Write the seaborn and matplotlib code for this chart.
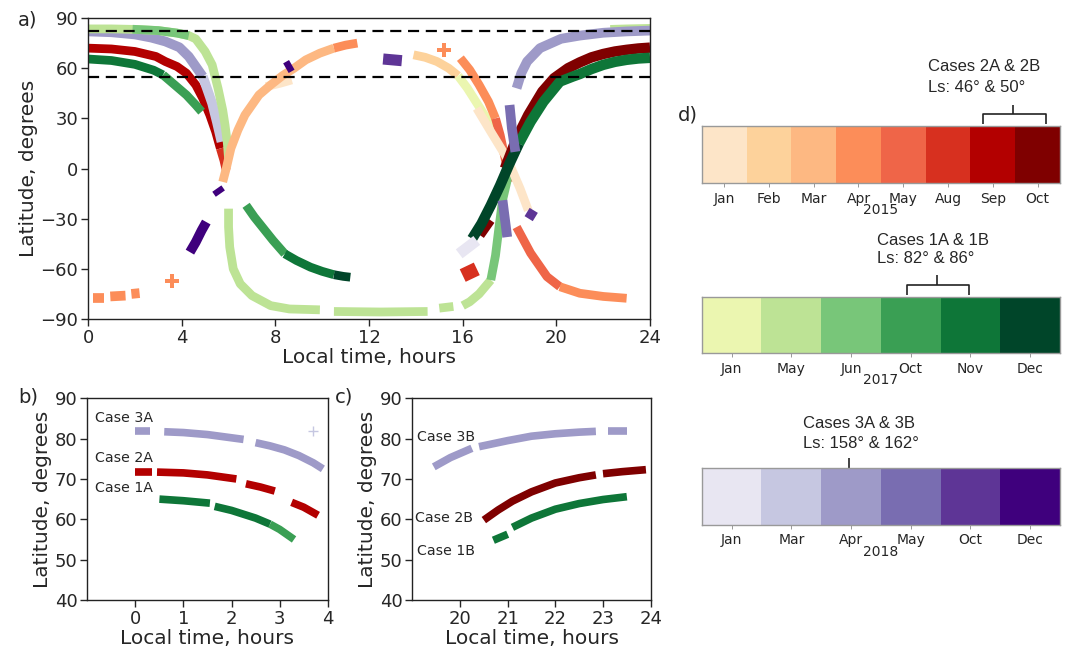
import numpy as np
import matplotlib
matplotlib.use("Agg")
import matplotlib.pyplot as plt
from matplotlib.colors import ListedColormap
import seaborn as sns

# ---------------- colours per month ----------------
months_2015 = ["Jan", "Feb", "Mar", "Apr", "May", "Aug", "Sep", "Oct"]
colors_2015 = ["#fde5c8", "#fdd29b", "#fdb882", "#fc8d59", "#ef6548", "#d7301f", "#b30000", "#7f0000"]
months_2017 = ["Jan", "May", "Jun", "Oct", "Nov", "Dec"]
colors_2017 = ["#ebf6b0", "#bde395", "#78c679", "#3a9f54", "#0e7638", "#004529"]
months_2018 = ["Jan", "Mar", "Apr", "May", "Oct", "Dec"]
colors_2018 = ["#e8e6f2", "#c6c7e1", "#9e9ac8", "#796db1", "#5e3596", "#3f007d"]

O_JAN, O_FEB, O_MAR, O_APR, O_MAY, O_AUG, O_SEP, O_OCT = colors_2015
G_JAN, G_MAY, G_JUN, G_OCT, G_NOV, G_DEC = colors_2017
P_JAN, P_MAR, P_APR, P_MAY, P_OCT, P_DEC = colors_2018

# ---------------- panel a data (local time h, latitude deg) ----------------
# morning, northern branch
a_gmay_n_t = [0, 1, 2, 3, 3.8, 4.3, 4.6, 5.0, 5.3, 5.55, 5.75, 5.85, 5.95, 6.0]
a_gmay_n_lat = [83.5, 83.5, 83.2, 82.5, 81, 79.5, 77.5, 70, 62, 48, 35, 26, 15, 6]
a_gjun_n_t = [1.9, 3.0, 3.8, 4.3]
a_gjun_n_lat = [83.3, 82.5, 81, 79.5]
a_oct2a_t = [0, 1, 2, 2.9, 3.3, 3.8, 4.2, 4.6, 4.9, 5.2, 5.45, 5.65]
a_oct2a_lat = [72, 71.5, 70, 67, 64, 61, 57, 50, 42, 32, 22, 12]
a_aug_m_t = [5.65, 5.8, 5.9]
a_aug_m_lat = [12, 5, -1]
a_nov1a_t = [0, 1, 2, 2.8, 3.2]
a_nov1a_lat = [65.5, 64.6, 62.3, 58.8, 56]
a_oct1a_t = [3.2, 3.7, 4.2, 4.6, 4.85]
a_oct1a_lat = [56, 50, 44, 38, 34]
a_papr3a_t = [0, 1, 2, 2.7, 3.3, 3.9, 4.3, 4.6, 4.9]
a_papr3a_lat = [82, 81.5, 80.2, 78.3, 76, 72.5, 67, 61, 55]
a_pmar3a_t = [4.9, 5.1, 5.3, 5.5, 5.7]
a_pmar3a_lat = [55, 47, 39, 28, 16]
# morning rising orange branch
a_omar_t = [5.75, 5.9, 6.1, 6.4, 6.7, 7.3, 7.8, 8.3, 8.8, 9.3, 9.9, 10.5]
a_omar_lat = [-8, 0, 12, 23, 32, 44, 50, 55.5, 60, 65, 69, 72]
a_oapr_m_t = [10.5, 11.0, 11.5]
a_oapr_m_lat = [72, 73.8, 75]
a_ojan_m_t = [7.6, 8.2, 8.7]
a_ojan_m_lat = [49, 51, 53]
# morning southern branches
a_gmay_s1_t = [6.0, 6.0, 6.05, 6.2, 6.5, 7.0, 7.8, 8.6, 9.9]
a_gmay_s1_lat = [-24, -35, -47, -60, -69, -76, -82, -84, -84.5]
a_gmay_s2_t = [10.5, 12.5, 14.5]
a_gmay_s2_lat = [-85.5, -85.8, -85.5]
a_gmay_s3_t = [15.0, 15.6]
a_gmay_s3_lat = [-83.5, -82.5]
a_goct_s_t = [6.75, 7.1, 7.5, 7.9, 8.4]
a_goct_s_lat = [-22, -29, -36, -43, -51]
a_gnov_s_t = [8.4, 8.9, 9.5, 10.0, 10.5]
a_gnov_s_lat = [-51, -55, -59, -61.5, -63.5]
a_gdec_s_t = [10.5, 10.9, 11.2]
a_gdec_s_lat = [-63.5, -64.5, -65]
a_oapr_s1_t = [0.2, 0.7]
a_oapr_s1_lat = [-77.5, -77.5]
a_oapr_s2_t = [0.95, 1.6]
a_oapr_s2_lat = [-76.5, -76]
a_oapr_s3_t = [1.85, 2.2]
a_oapr_s3_lat = [-75, -74.5]
a_pdec1_t = [4.35, 4.6, 4.85, 5.05]
a_pdec1_lat = [-50, -44, -37, -32]
a_pdec2_t = [5.5, 5.65]
a_pdec2_lat = [-12, -15]
a_pdec3_t = [8.45, 8.7]
a_pdec3_lat = [60, 62]
a_poct1_t = [12.6, 13.4]
a_poct1_lat = [65.5, 64.5]
# evening branches
a_ofeb_e_t = [13.9, 14.4, 14.9, 15.4, 15.8]
a_ofeb_e_lat = [68, 66.5, 64, 60, 55.5]
a_gjan_e_t = [15.8, 16.2, 16.7, 17.2, 17.6, 17.8]
a_gjan_e_lat = [55.5, 48, 37, 26, 15, 8]
a_ojan_e_t = [16.6, 17.2, 17.9, 18.45, 18.8]
a_ojan_e_lat = [36, 22, 6, -12, -25]
a_oapr_e1_t = [15.9, 16.3, 16.7, 17.1, 17.4]
a_oapr_e1_lat = [66, 59, 50, 40, 30]
a_omay_e1_t = [17.4, 17.6, 17.75, 17.9, 18.0]
a_omay_e1_lat = [30, 20, 10, 0, -8]
a_omay_e2_t = [18.3, 18.9, 19.6, 20.15]
a_omay_e2_lat = [-35, -50.6, -64.7, -70.7]
a_oapr_e2_t = [20.15, 21.0, 22.0, 23.0]
a_oapr_e2_lat = [-70.7, -74.6, -76.5, -77.6]
a_gmay_e_t = [16.0, 16.3, 16.7, 17.2]
a_gmay_e_lat = [-82, -79.7, -75, -66.7]
a_gjun_e_t = [17.2, 17.4, 17.55, 17.7, 17.9, 18.05]
a_gjun_e_lat = [-66.7, -52, -35, -19, -7, 3]
a_gmay_top_t = [22.3, 23.0, 24.0]
a_gmay_top_lat = [83.2, 83.5, 83.8]
a_ooct_e1_t = [16.75, 17.2]
a_ooct_e1_lat = [-40, -31]
a_ooct_e2_t = [17.8, 18.3, 18.8, 19.4, 19.9, 20.5, 21.0, 21.5, 22.0, 22.5, 23.0, 23.5, 24.0]
a_ooct_e2_lat = [0, 18, 32, 46, 54, 60, 63.5, 66.5, 68.5, 70, 71, 71.8, 72.3]
a_gdec_e_t = [16.4, 16.8, 17.2, 17.6, 18.0, 18.4]
a_gdec_e_lat = [-42, -33, -22, -10, 3, 15]
a_gnov_e_t = [18.4, 18.9, 19.45, 20.15, 20.7, 21.0, 21.5, 22.0, 22.5, 23.0, 23.5, 24.0]
a_gnov_e_lat = [15, 28, 40, 52, 55, 56.5, 59.5, 62, 63.8, 65, 65.8, 66.2]
a_papr_e_t = [18.3, 18.5, 18.75, 19.3, 20.2, 21.0, 22.0, 23.0, 24.0]
a_papr_e_lat = [48, 57, 64, 72, 77.6, 79.5, 81.2, 82, 82.5]
a_pmay_e1_t = [18.0, 18.1, 18.25]
a_pmay_e1_lat = [38, 24, 10]
a_pmay_e2_t = [17.7, 17.8, 17.9]
a_pmay_e2_lat = [-19, -30, -41]
a_pjan_e_t = [15.85, 16.6]
a_pjan_e_lat = [-51, -43]
a_oaug_e_t = [16.0, 16.6]
a_oaug_e_lat = [-64, -60]
a_poct2_t = [18.75, 19.1]
a_poct2_lat = [-26, -29]
a_single_t = [3.6, 15.2]
a_single_lat = [-67, 71]
dash_lats = [82.5, 55]

# ---------------- panel b data ----------------
b_3a_1_t = [0.0, 0.3]; b_3a_1_lat = [81.8, 81.8]
b_3a_2_t = [0.6, 1.0, 1.5, 2.0, 2.25]; b_3a_2_lat = [81.7, 81.5, 81.0, 80.2, 79.8]
b_3a_3_t = [2.5, 2.8, 3.1, 3.4, 3.7, 3.9]; b_3a_3_lat = [79.0, 78.2, 77.2, 75.8, 74.0, 72.5]
b_2a_1_t = [0.0, 0.35]; b_2a_1_lat = [71.8, 71.8]
b_2a_2_t = [0.45, 1.0, 1.5, 2.1]; b_2a_2_lat = [71.7, 71.5, 71.0, 70.0]
b_2a_3_t = [2.3, 2.6, 2.9]; b_2a_3_lat = [68.8, 68.0, 67.0]
b_2a_4_t = [3.25, 3.5, 3.8]; b_2a_4_lat = [64.2, 63.0, 61.0]
b_1a_1_t = [0.5, 1.0, 1.55]; b_1a_1_lat = [65.0, 64.6, 64.0]
b_1a_2_t = [1.65, 2.0, 2.5, 2.8]; b_1a_2_lat = [63.2, 62.2, 60.3, 58.8]
b_1a_3_t = [2.8, 3.0, 3.3]; b_1a_3_lat = [58.8, 57.5, 55.0]
b_faint_t = [3.7]; b_faint_lat = [82.0]

# ---------------- panel c data ----------------
c_3b_1_t = [19.45, 19.8, 20.25]; c_3b_1_lat = [73.0, 75.3, 77.6]
c_3b_2_t = [20.4, 20.6, 21.0, 21.5, 22.0, 22.5, 22.85]; c_3b_2_lat = [78.0, 78.5, 79.5, 80.6, 81.2, 81.6, 81.8]
c_3b_3_t = [23.1, 23.5]; c_3b_3_lat = [82.0, 82.0]
c_2b_1_t = [20.5, 20.8, 21.1, 21.5, 22.0, 22.5, 22.85]; c_2b_1_lat = [59.8, 62.3, 64.5, 66.8, 69.0, 70.3, 71.0]
c_2b_2_t = [23.0, 23.4, 23.9]; c_2b_2_lat = [71.3, 71.8, 72.3]
c_1b_1_t = [20.7, 21.0]; c_1b_1_lat = [54.8, 56.3]
c_1b_2_t = [21.1, 21.5, 22.0, 22.5, 23.0, 23.5]; c_1b_2_lat = [58.0, 60.3, 62.5, 63.9, 64.9, 65.6]

# ---------------- figure ----------------
sns.set_style("ticks")
plt.rcParams["font.family"] = ["DejaVu Sans"]
plt.rcParams["axes.edgecolor"] = "#222222"

fig = plt.figure(figsize=(10.66, 6.56), dpi=100)
ax_a = fig.add_axes([0.0826, 0.5137, 0.5272, 0.4588])
ax_b = fig.add_axes([0.0819, 0.0854, 0.2255, 0.3075])
ax_c = fig.add_axes([0.3868, 0.0854, 0.2236, 0.3075])
cb_axes = [fig.add_axes([0.6583, 0.7206, 0.3361, 0.0878]),
           fig.add_axes([0.6583, 0.4614, 0.3361, 0.0863]),
           fig.add_axes([0.6583, 0.1997, 0.3361, 0.0873])]


def seg(ax, t, lat, color, lw=6.3):
    sns.lineplot(x=t, y=lat, ax=ax, color=color, lw=lw, sort=False,
                 estimator=None, solid_capstyle="butt", legend=False)


A = ax_a
# southern / background first
seg(A, a_gmay_s1_t, a_gmay_s1_lat, G_MAY)
seg(A, a_gmay_s2_t, a_gmay_s2_lat, G_MAY)
seg(A, a_gmay_s3_t, a_gmay_s3_lat, G_MAY)
seg(A, a_goct_s_t, a_goct_s_lat, G_OCT)
seg(A, a_gnov_s_t, a_gnov_s_lat, G_NOV)
seg(A, a_gdec_s_t, a_gdec_s_lat, G_DEC)
for t, l in [(a_oapr_s1_t, a_oapr_s1_lat), (a_oapr_s2_t, a_oapr_s2_lat), (a_oapr_s3_t, a_oapr_s3_lat)]:
    seg(A, t, l, O_APR, lw=7)
# morning north
seg(A, a_oct2a_t, a_oct2a_lat, O_SEP)
seg(A, a_aug_m_t, a_aug_m_lat, O_AUG)
seg(A, a_nov1a_t, a_nov1a_lat, G_NOV)
seg(A, a_oct1a_t, a_oct1a_lat, G_OCT)
seg(A, a_papr3a_t, a_papr3a_lat, P_APR, lw=7)
seg(A, a_pmar3a_t, a_pmar3a_lat, P_MAR, lw=7)
seg(A, a_gmay_n_t, a_gmay_n_lat, G_MAY)
seg(A, a_gjun_n_t, a_gjun_n_lat, G_JUN)
seg(A, a_ojan_m_t, a_ojan_m_lat, O_JAN)
seg(A, a_omar_t, a_omar_lat, O_MAR)
seg(A, a_oapr_m_t, a_oapr_m_lat, O_APR)
# evening
seg(A, a_ofeb_e_t, a_ofeb_e_lat, O_FEB)
seg(A, a_gjan_e_t, a_gjan_e_lat, G_JAN)
seg(A, a_oapr_e1_t, a_oapr_e1_lat, O_APR)
seg(A, a_omay_e1_t, a_omay_e1_lat, O_MAY)
seg(A, a_omay_e2_t, a_omay_e2_lat, O_MAY)
seg(A, a_oapr_e2_t, a_oapr_e2_lat, O_APR)
seg(A, a_gmay_e_t, a_gmay_e_lat, G_MAY)
seg(A, a_gjun_e_t, a_gjun_e_lat, G_JUN)
seg(A, a_ojan_e_t, a_ojan_e_lat, O_JAN)
seg(A, a_gmay_top_t, a_gmay_top_lat, G_MAY)
seg(A, a_ooct_e1_t, a_ooct_e1_lat, O_OCT)
seg(A, a_ooct_e2_t, a_ooct_e2_lat, O_OCT, lw=7.5)
seg(A, a_gdec_e_t, a_gdec_e_lat, G_DEC, lw=7.5)
seg(A, a_gnov_e_t, a_gnov_e_lat, G_NOV, lw=7.5)
seg(A, a_papr_e_t, a_papr_e_lat, P_APR, lw=7)
seg(A, a_pmay_e1_t, a_pmay_e1_lat, P_MAY, lw=7)
seg(A, a_pmay_e2_t, a_pmay_e2_lat, P_MAY, lw=7)
seg(A, a_pjan_e_t, a_pjan_e_lat, P_JAN, lw=8)
seg(A, a_oaug_e_t, a_oaug_e_lat, O_AUG, lw=10)
# small blobs
seg(A, a_pdec1_t, a_pdec1_lat, P_DEC, lw=7)
seg(A, a_pdec2_t, a_pdec2_lat, P_DEC, lw=8)
seg(A, a_pdec3_t, a_pdec3_lat, P_DEC, lw=8)
seg(A, a_poct1_t, a_poct1_lat, P_OCT, lw=8)
seg(A, a_poct2_t, a_poct2_lat, P_OCT, lw=7)
sns.scatterplot(x=a_single_t, y=a_single_lat, ax=A, marker="P", s=90,
                color=O_APR, linewidth=0, legend=False)
for yv in dash_lats:
    A.axhline(yv, color="black", lw=1.6, ls=(0, (5, 3)), zorder=5)

A.set_xlim(0, 24)
A.set_ylim(-90, 90)
A.set_xticks(range(0, 25, 4))
A.set_yticks(range(-90, 91, 30))
A.set_xlabel("Local time, hours", fontsize=14.5, labelpad=1)
A.set_ylabel("Latitude, degrees", fontsize=14.5, labelpad=2)

# ---------------- panel b ----------------
for t, l in [(b_3a_1_t, b_3a_1_lat), (b_3a_2_t, b_3a_2_lat), (b_3a_3_t, b_3a_3_lat)]:
    seg(ax_b, t, l, P_APR, lw=5.5)
for t, l in [(b_2a_1_t, b_2a_1_lat), (b_2a_2_t, b_2a_2_lat), (b_2a_3_t, b_2a_3_lat), (b_2a_4_t, b_2a_4_lat)]:
    seg(ax_b, t, l, O_SEP, lw=5.5)
seg(ax_b, b_1a_1_t, b_1a_1_lat, G_NOV, lw=5.5)
seg(ax_b, b_1a_2_t, b_1a_2_lat, G_NOV, lw=5.5)
seg(ax_b, b_1a_3_t, b_1a_3_lat, G_OCT, lw=5.5)
sns.scatterplot(x=b_faint_t, y=b_faint_lat, ax=ax_b, marker="+", s=60,
                color=P_MAR, linewidth=1, legend=False)
ax_b.set_xlim(-1, 4)
ax_b.set_ylim(40, 90)
ax_b.set_xticks([0, 1, 2, 3, 4])
ax_b.set_yticks(range(40, 91, 10))
ax_b.set_xlabel("Local time, hours", fontsize=14.5, labelpad=1)
ax_b.set_ylabel("Latitude, degrees", fontsize=14.5, labelpad=2)
ax_b.text(-0.83, 85.1, "Case 3A", fontsize=10.2, va="center", ha="left")
ax_b.text(-0.83, 75.2, "Case 2A", fontsize=10.2, va="center", ha="left")
ax_b.text(-0.83, 67.8, "Case 1A", fontsize=10.2, va="center", ha="left")

# ---------------- panel c ----------------
for t, l in [(c_3b_1_t, c_3b_1_lat), (c_3b_2_t, c_3b_2_lat), (c_3b_3_t, c_3b_3_lat)]:
    seg(ax_c, t, l, P_APR, lw=5.5)
for t, l in [(c_2b_1_t, c_2b_1_lat), (c_2b_2_t, c_2b_2_lat)]:
    seg(ax_c, t, l, O_OCT, lw=5.5)
for t, l in [(c_1b_1_t, c_1b_1_lat), (c_1b_2_t, c_1b_2_lat)]:
    seg(ax_c, t, l, G_NOV, lw=5.5)
ax_c.set_xlim(19, 24)
ax_c.set_ylim(40, 90)
ax_c.set_xticks([20, 21, 22, 23, 24])
ax_c.set_yticks(range(40, 91, 10))
ax_c.set_xlabel("Local time, hours", fontsize=14.5, labelpad=1)
ax_c.set_ylabel("Latitude, degrees", fontsize=14.5, labelpad=2)
ax_c.text(19.09, 80.3, "Case 3B", fontsize=10.2, va="center", ha="left")
ax_c.text(19.05, 60.3, "Case 2B", fontsize=10.2, va="center", ha="left")
ax_c.text(19.09, 52.1, "Case 1B", fontsize=10.2, va="center", ha="left")

for ax in (ax_a, ax_b, ax_c):
    ax.tick_params(labelsize=13, length=5, width=1, pad=2)
    for s in ax.spines.values():
        s.set_visible(True)
        s.set_linewidth(1.0)

# ---------------- panel d colour bars ----------------
bars = [(months_2015, colors_2015, "2015"),
        (months_2017, colors_2017, "2017"),
        (months_2018, colors_2018, "2018")]
for ax, (mlist, clist, year) in zip(cb_axes, bars):
    n = len(mlist)
    sns.heatmap(np.arange(n).reshape(1, -1), cmap=ListedColormap(clist), cbar=False,
                ax=ax, linewidths=0, vmin=-0.5, vmax=n - 0.5)
    ax.set_xticks(np.arange(n) + 0.5)
    ax.set_xticklabels(mlist, rotation=0, fontsize=10)
    ax.set_yticks([])
    ax.set_xlabel(year, fontsize=10, labelpad=-2)
    ax.tick_params(axis="x", length=3, width=0.6, color="#888888", pad=3)
    for s in ax.spines.values():
        s.set_visible(True)
        s.set_color("#999999")
        s.set_linewidth(1.0)

ann_font = dict(family=["Liberation Sans", "DejaVu Sans"], fontsize=12, ha="left", va="center")
k = dict(color="#222222", lw=1.2, clip_on=False, solid_capstyle="butt")
# bar 1 bracket (Sep & Oct)
ax1 = cb_axes[0]
ax1.plot([6.28, 6.28, 7.69, 7.69], [-0.03, -0.2, -0.2, -0.03], **k)
ax1.plot([6.95, 6.95], [-0.2, -0.36], **k)
ax1.text(5.05, -1.02, "Cases 2A & 2B", **ann_font)
ax1.text(5.05, -0.67, "Ls: 46° & 50°", **ann_font)
# bar 2 bracket (Oct & Nov)
ax2 = cb_axes[1]
ax2.plot([3.43, 3.43, 4.47, 4.47], [-0.03, -0.2, -0.2, -0.03], **k)
ax2.plot([3.94, 3.94], [-0.2, -0.38], **k)
ax2.text(2.94, -1.0, "Cases 1A & 1B", **ann_font)
ax2.text(2.94, -0.67, "Ls: 82° & 86°", **ann_font)
# bar 3 stem (Apr)
ax3 = cb_axes[2]
ax3.plot([2.47, 2.47], [0.0, -0.17], **k)
ax3.text(1.70, -0.78, "Cases 3A & 3B", **ann_font)
ax3.text(1.70, -0.43, "Ls: 158° & 162°", **ann_font)

# panel letters
fig.text(18 / 1066, 1 - 20 / 656, "a)", fontsize=14, va="center", ha="left")
fig.text(18 / 1066, 1 - 397 / 656, "b)", fontsize=14, va="center", ha="left")
fig.text(335 / 1066, 1 - 397 / 656, "c)", fontsize=14, va="center", ha="left")
fig.text(678 / 1066, 1 - 115 / 656, "d)", fontsize=14, va="center", ha="left")

fig.savefig("out.png", dpi=100)
